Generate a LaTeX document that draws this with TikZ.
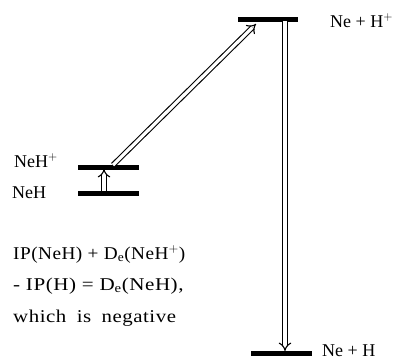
\documentclass[tikz,border=0pt]{standalone}
\usepackage{fontspec}
\usepackage{graphicx}
\setmainfont{Liberation Serif}
\usetikzlibrary{arrows.meta}
\begin{document}
\begin{tikzpicture}[x=1pt,y=-1pt,
  level/.style={line width=5pt},
  dbl/.style={double, double distance=3.2pt, line width=1.1pt, -{Implies}},
  lab/.style={anchor=base west, inner sep=0pt, font=\fontsize{18}{20}\selectfont},
  para/.style={lab, font=\fontsize{18}{20}\selectfont\addfontfeature{LetterSpace=2.5}}]
\useasboundingbox (0,0) rectangle (396,359);
% levels
\draw[level] (238,19) coordinate (t1) -- (298,19) coordinate (t2);
\draw[level] (78,167) coordinate (p1) -- (139,167) coordinate (p2);
\draw[level] (78,193) coordinate (n1) -- (139,193) coordinate (n2);
\draw[level] (251,353) coordinate (b1) -- (312,353) coordinate (b2);
% arrow anchor coordinates
\coordinate (sa) at (104,191);
\coordinate (sb) at (104,169);
\coordinate (da) at (113,165);
\coordinate (db) at (256,24);
\coordinate (va) at (285,21);
\coordinate (vb) at (285,351);
\draw[dbl] (sa) -- (sb);
\draw[dbl] (da) -- (db);
\draw[dbl] (va) -- (vb);
% labels
\node[lab] (l1) at (330,27) {Ne + H$^{\mathrm{+}}$};
\node[lab] (l2) at (14,167) {NeH$^{\mathrm{+}}$};
\node[lab] (l3) at (12,198) {NeH};
\node[lab] (l4) at (322,356) {Ne + H};
\node[para] (t1l) at (13,259) {\scalebox{1.07}[1]{IP(NeH) + D$_{\mathrm{e}}$(NeH$^{\mathrm{+}}$)}};
\node[para] (t2l) at (13,290) {\scalebox{1.17}[1]{- IP(H) = D$_{\mathrm{e}}$(NeH),}};
\node[para] (t3l) at (13,322) {\scalebox{1.16}[1]{which\hspace{9pt}is\hspace{9pt}negative}};
\end{tikzpicture}
\end{document}
